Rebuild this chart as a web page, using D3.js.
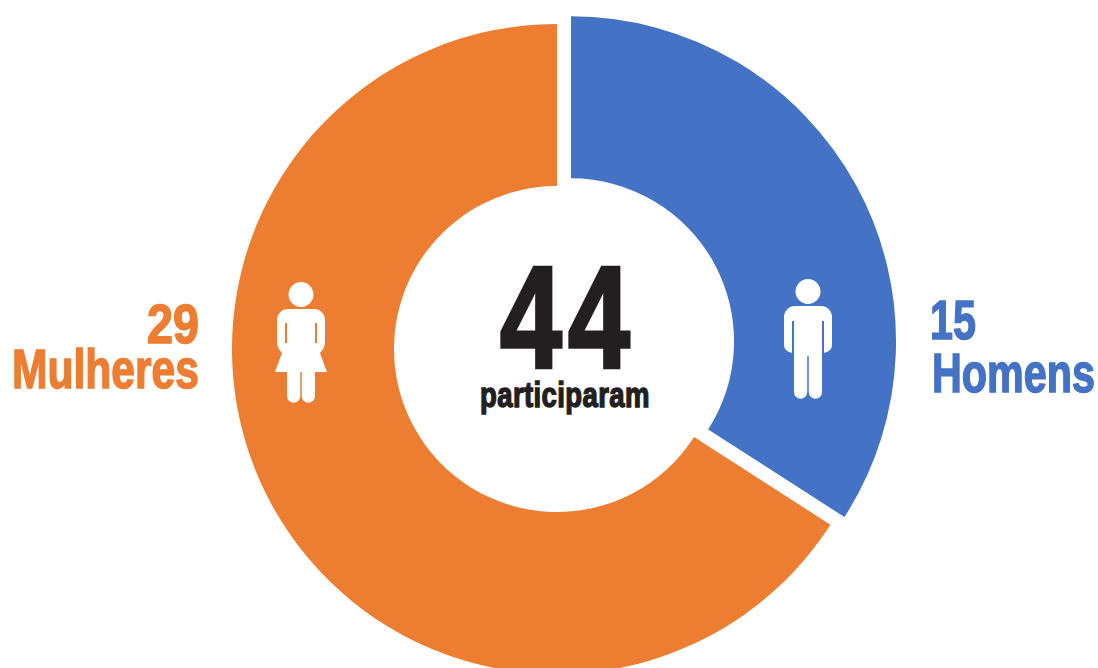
<!DOCTYPE html>
<html>
<head>
<meta charset="utf-8">
<script src="https://cdn.jsdelivr.net/npm/d3@7"></script>
<style>
  html, body { margin: 0; padding: 0; background: #fff; }
  svg { display: block; }
  text { font-family: "Liberation Sans", sans-serif; font-weight: 700; }
</style>
</head>
<body>
<div id="chart"></div>
<script>
const categories = ['Homens', 'Mulheres'];
const values = [15, 29];
const totalLabel = '44';
const totalCaption = 'participaram';
const colors = ['#4472C4', '#ED7D31'];

const width = 1098, height = 668;
const cx = 557, cy = 349;
const outerR = 325, innerR = 163;
const explode = 16; // blue slice is pulled out of the ring

const svg = d3.select('#chart').append('svg')
    .attr('width', width)
    .attr('height', height);

const pie = d3.pie().sort(null).value(d => d);
const arc = d3.arc().innerRadius(innerR).outerRadius(outerR);
const arcs = pie(values);

const chart = svg.append('g').attr('transform', `translate(${cx},${cy})`);

chart.selectAll('path.slice')
  .data(arcs)
  .join('path')
    .attr('class', 'slice')
    .attr('fill', (d, i) => colors[i])
    .attr('d', arc)
    .attr('transform', (d, i) => {
      if (i !== 0) return null;
      const mid = (d.startAngle + d.endAngle) / 2;
      return `translate(${explode * Math.sin(mid)},${-explode * Math.cos(mid)})`;
    });

// pictograms, drawn around their own x centre with y=0 at the top of the head
const manPath = 'M-24,38 a11,11 0 0 1 11,-11 h26 a11,11 0 0 1 11,11 V66 q0,6 -8,8 V42 h-2 V113 a6.6,6.6 0 0 1 -13.25,0 V77 h-1.5 V113 a6.6,6.6 0 0 1 -13.25,0 V42 h-2 V74 q-8,-2 -8,-8 z';
const womanPath = 'M-24,38 a11,11 0 0 1 11,-11 h26 a11,11 0 0 1 11,11 V60 q0,6 -5,11 L26,90 H14 V114 a6.6,6.6 0 0 1 -13.25,0 V90 h-1.5 V114 a6.6,6.6 0 0 1 -13.25,0 V90 H-26 L-19,71 q-5,-5 -5,-11 z';

function person(x, y, path) {
  const g = svg.append('g').attr('transform', `translate(${x},${y})`).attr('fill', '#fff');
  g.append('circle').attr('cy', 12.5).attr('r', 12.5);
  g.append('path').attr('d', path);
  return g;
}
person(808, 279, manPath);
const woman = person(301, 282, womanPath);
// arm gaps of the woman
woman.selectAll('rect').data([-16, 14]).join('rect')
    .attr('x', d => d).attr('y', 41).attr('width', 2).attr('height', 20)
    .attr('fill', colors[1]);

// no condensed bold font here, so squeeze the text to the width it has in the picture
function label(str, left, right, y, size, fill, weight, spacing) {
  const t = svg.append('text')
      .attr('font-size', size)
      .attr('fill', fill)
      .attr('stroke', fill)
      .attr('stroke-width', weight)
      .style('letter-spacing', `${spacing || 0}px`)
      .text(str);
  const sx = (right - left) / t.node().getComputedTextLength();
  t.attr('transform', `translate(${left},${y}) scale(${sx},1)`);
  return t;
}

// side labels
label(values[1], 147, 199, 343, 56, colors[1], 1.5);
label(categories[1], 12, 199, 388, 56, colors[1], 1.5);
label(values[0], 930, 976, 339, 56, colors[0], 1.5);
label(categories[0], 932, 1095, 392, 56, colors[0], 1.5);

// centre total
label(totalLabel, 500, 636, 366.5, 145, '#231F20', 3.5, 8);
label(totalCaption, 480, 650, 407, 36, '#231F20', 1.5, 0.5);
</script>
</body>
</html>
